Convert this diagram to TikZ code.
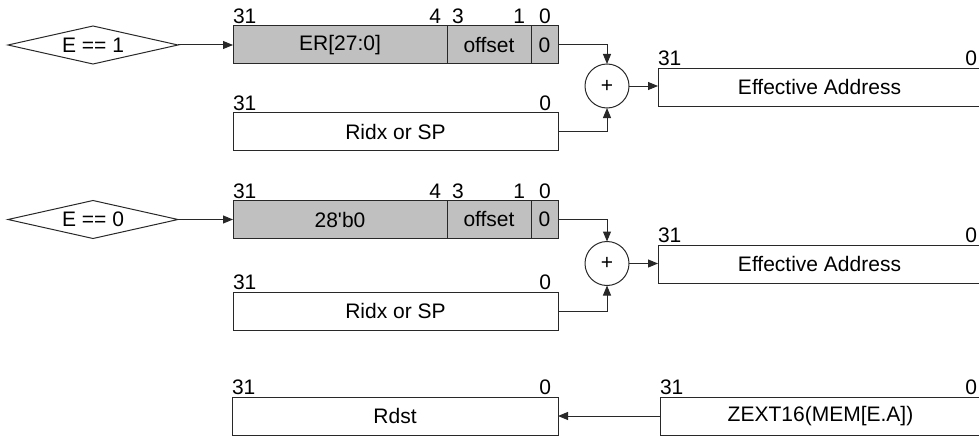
\documentclass[tikz,border=0pt]{standalone}
\usepackage{fontspec}
\newfontfamily\diagfont{Liberation Sans}
\usetikzlibrary{shapes.geometric,arrows.meta}
\definecolor{linec}{RGB}{40,40,40}
\definecolor{regfill}{RGB}{192,192,192}
\begin{document}
\begin{tikzpicture}[x=1pt,y=-1pt,
  font=\diagfont\fontsize{21}{25}\selectfont,
  every node/.style={inner sep=0pt, outer sep=0pt},
  fld/.style={draw=linec, line width=1pt, minimum height=38pt},
  shaded/.style={fld, fill=regfill},
  cond/.style={diamond, draw=linec, line width=1pt, minimum width=170pt, minimum height=38pt, aspect=4.5},
  adder/.style={circle, draw=linec, line width=1pt, minimum size=44pt},
  conn/.style={draw=linec, line width=1pt, -{Triangle[length=10pt,width=8pt]}},
  bitl/.style={anchor=base west},
  bitr/.style={anchor=base east},
  bitc/.style={anchor=base},
]
\clip (0,0) rectangle (979,436);
\useasboundingbox (0,0) rectangle (979,436);

% ---------- group 1 ----------
\node[cond] (d1) at (93,45) {E == 1};
\node[shaded, minimum width=214pt] (er1) at (340,45) {ER[27:0]};
\node[shaded, minimum width=84pt] (off1) at (489,45) {offset};
\node[shaded, minimum width=27pt] (z1) at (544.5,45) {0};
\node[bitl] (b1a) at (233,23.5) {31};
\node[bitr] (b1b) at (441,23.5) {4};
\node[bitl] (b1c) at (452,23.5) {3};
\node[bitr] (b1d) at (525,23.5) {1};
\node[bitc] (b1e) at (545,23.5) {0};

\node[fld, minimum width=325pt] (r1) at (395.5,131.5) {Ridx or SP};
\node[bitl] (r1a) at (233,110) {31};
\node[bitr] (r1b) at (551,110) {0};

\node[adder] (p1) at (607,86) {+};
\node[fld, minimum width=323pt] (ea1) at (819.5,87) {Effective Address};
\node[bitl] (e1a) at (658,65.5) {31};
\node[bitr] (e1b) at (977,65.5) {0};

\draw[conn] (d1.east) -- (er1.west);
\draw[conn] (z1.east) -| (p1.north);
\draw[conn] (r1.east) -| (p1.south);
\draw[conn] (p1.east) -- (ea1.west |- p1.east);

% ---------- group 2 ----------
\node[cond] (d2) at (93,219.5) {E == 0};
\node[shaded, minimum width=214pt] (er2) at (340,219.5) {28'b0};
\node[shaded, minimum width=84pt] (off2) at (489,219.5) {offset};
\node[shaded, minimum width=27pt] (z2) at (544.5,219.5) {0};
\node[bitl] (b2a) at (233,198) {31};
\node[bitr] (b2b) at (441,198) {4};
\node[bitl] (b2c) at (452,198) {3};
\node[bitr] (b2d) at (525,198) {1};
\node[bitc] (b2e) at (545,198) {0};

\node[fld, minimum width=325pt] (r2) at (395.5,311) {Ridx or SP};
\node[bitl] (r2a) at (233,289.5) {31};
\node[bitr] (r2b) at (551,289.5) {0};

\node[adder] (p2) at (607,263.5) {+};
\node[fld, minimum width=323pt] (ea2) at (819.5,264) {Effective Address};
\node[bitl] (e2a) at (658,242.5) {31};
\node[bitr] (e2b) at (977,242.5) {0};

\draw[conn] (d2.east) -- (er2.west);
\draw[conn] (z2.east) -| (p2.north);
\draw[conn] (r2.east) -| (p2.south);
\draw[conn] (p2.east) -- (ea2.west |- p2.east);

% ---------- bottom row ----------
\node[fld, minimum width=326pt] (rd) at (395,416) {Rdst};
\node[bitl] (rda) at (232,394.5) {31};
\node[bitr] (rdb) at (551,394.5) {0};
\node[fld, minimum width=321pt] (zx) at (820.5,416) {ZEXT16(MEM[E.A])};
\node[bitl] (zxa) at (660,394.5) {31};
\node[bitr] (zxb) at (977,394.5) {0};
\draw[conn] (zx.west) -- (rd.east);
\end{tikzpicture}
\end{document}
